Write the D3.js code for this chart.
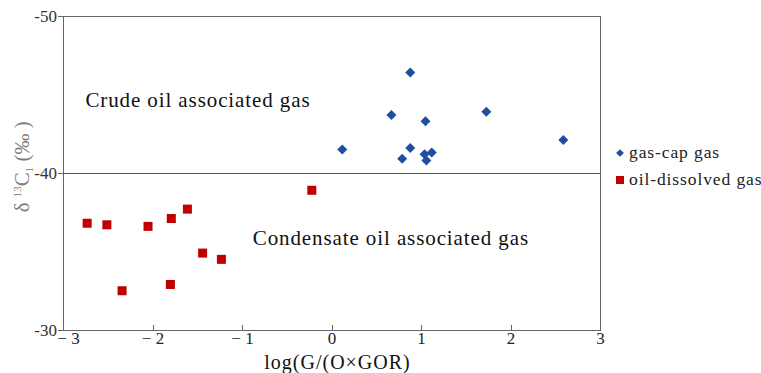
<!DOCTYPE html>
<meta charset="utf-8">
<style>
  body { margin: 0; background: #fff; }
  .axis path, .axis line { stroke: #666; shape-rendering: crispEdges; }
</style>
<body>
<svg id="chart" width="761" height="373" font-family="Liberation Serif, DejaVu Serif, serif"></svg>
<script src="https://d3js.org/d3.v7.min.js"></script>
<script>
// gas-cap gas: log(G/(OxGOR)), d13C1
var capX = [0.12, 0.67, 0.88, 0.88, 0.79, 1.05, 1.04, 1.12, 1.06, 1.73, 2.59];
var capY = [-41.5, -43.7, -46.4, -41.6, -40.9, -43.3, -41.2, -41.3, -40.8, -43.9, -42.1];
// oil-dissolved gas
var oilX = [-2.73, -2.51, -2.05, -1.79, -1.61, -1.44, -1.23, -2.34, -1.80, -0.22];
var oilY = [-36.8, -36.7, -36.6, -37.1, -37.7, -34.9, -34.5, -32.5, -32.9, -38.9];

var xTicks = [-3, -2, -1, 0, 1, 2, 3];
var yTicks = [-50, -40, -30];
var legendNames = ["gas-cap gas", "oil-dissolved gas"];

var serif = "Liberation Serif, DejaVu Serif, serif";

var margin = {top: 16, left: 63, right: 161, bottom: 43};
var width = 761 - margin.left - margin.right,
    height = 373 - margin.top - margin.bottom;

var svg = d3.select("#chart");
var g = svg.append("g").attr("transform", "translate(" + margin.left + "," + margin.top + ")");

var x = d3.scaleLinear().domain([-3, 3]).range([0, width]);
var y = d3.scaleLinear().domain([-50, -30]).range([0, height]);

// frame
g.append("rect")
    .attr("width", width).attr("height", height)
    .attr("fill", "none").attr("stroke", "#666")
    .attr("shape-rendering", "crispEdges");

// divider at -40
g.append("line")
    .attr("x1", 0).attr("x2", width)
    .attr("y1", y(-40)).attr("y2", y(-40))
    .attr("stroke", "#555").attr("shape-rendering", "crispEdges");

var xAxis = d3.axisBottom(x).tickValues(xTicks).tickSizeInner(-5).tickSizeOuter(0)
    .tickFormat(function (d) { return d < 0 ? "\u2212 " + Math.abs(d) : d; });
var gx = g.append("g").attr("class", "axis")
    .attr("transform", "translate(0," + height + ")")
    .call(xAxis)
    .attr("font-family", serif).attr("font-size", 17);
gx.selectAll("text").attr("dy", "0.85em").attr("y", 0).attr("fill", "#222")
    .attr("x", function (d) { return d === -3 ? 5 : 0; });
gx.select(".domain").remove();

var yAxis = d3.axisLeft(y).tickValues(yTicks).tickSize(5).tickSizeOuter(0)
    .tickFormat(function (d) { return d; });
var gy = g.append("g").attr("class", "axis").call(yAxis)
    .attr("font-family", serif).attr("font-size", 17);
gy.selectAll("text").attr("x", -6).attr("fill", "#333");
gy.select(".domain").remove();

// axis titles
svg.append("text")
    .attr("x", margin.left + width / 2 + 6).attr("y", 368.5)
    .attr("text-anchor", "middle")
    .attr("font-size", 20).attr("letter-spacing", 1).attr("fill", "#111")
    .text("log(G/(O\u00d7GOR)");

var yl = svg.append("text")
    .attr("transform", "translate(29," + (margin.top + y(-40.4)) + ") rotate(-90)")
    .attr("text-anchor", "middle")
    .attr("font-size", 21).attr("fill", "#808080");
yl.append("tspan").text("\u03b4 ");
yl.append("tspan").attr("font-size", 11).attr("dy", -8).text("13");
yl.append("tspan").attr("dy", 8).text("C");
yl.append("tspan").attr("font-size", 11).attr("dy", 4).text("1");
yl.append("tspan").attr("dy", -4).text(" (\u2030 )");

// region labels
g.append("text")
    .attr("x", x(-2.75)).attr("y", y(-44.2))
    .attr("font-size", 21).attr("letter-spacing", 0.9).attr("fill", "#111")
    .text("Crude oil associated gas");
g.append("text")
    .attr("x", x(-0.88)).attr("y", y(-35.4))
    .attr("font-size", 21).attr("letter-spacing", 0.9).attr("fill", "#111")
    .text("Condensate oil associated gas");

var blue = "#1f4e9e", red = "#c00000";
var diamond = d3.symbol().type(d3.symbolSquare).size(50);

g.selectAll(".cap")
    .data(capX.map(function (v, i) { return [v, capY[i]]; }))
    .enter().append("path")
    .attr("class", "cap")
    .attr("d", diamond)
    .attr("transform", function (d) { return "translate(" + x(d[0]) + "," + y(d[1]) + ") rotate(45)"; })
    .attr("fill", blue);

g.selectAll(".oil")
    .data(oilX.map(function (v, i) { return [v, oilY[i]]; }))
    .enter().append("rect")
    .attr("class", "oil")
    .attr("x", function (d) { return x(d[0]) - 4.5; })
    .attr("y", function (d) { return y(d[1]) - 4.5; })
    .attr("width", 9).attr("height", 9)
    .attr("fill", red);

// legend
var lg = svg.append("g").attr("transform", "translate(620,153)");
lg.append("path")
    .attr("d", d3.symbol().type(d3.symbolSquare).size(30))
    .attr("transform", "rotate(45)")
    .attr("fill", blue);
lg.append("rect").attr("x", -4).attr("y", 23).attr("width", 8).attr("height", 8).attr("fill", red);
lg.selectAll(".lt").data(legendNames).enter().append("text")
    .attr("x", 9).attr("y", function (d, i) { return 5 + i * 27; })
    .attr("font-size", 17.5).attr("letter-spacing", 0.9).attr("fill", "#222")
    .text(function (d) { return d; });
</script>
</body>
